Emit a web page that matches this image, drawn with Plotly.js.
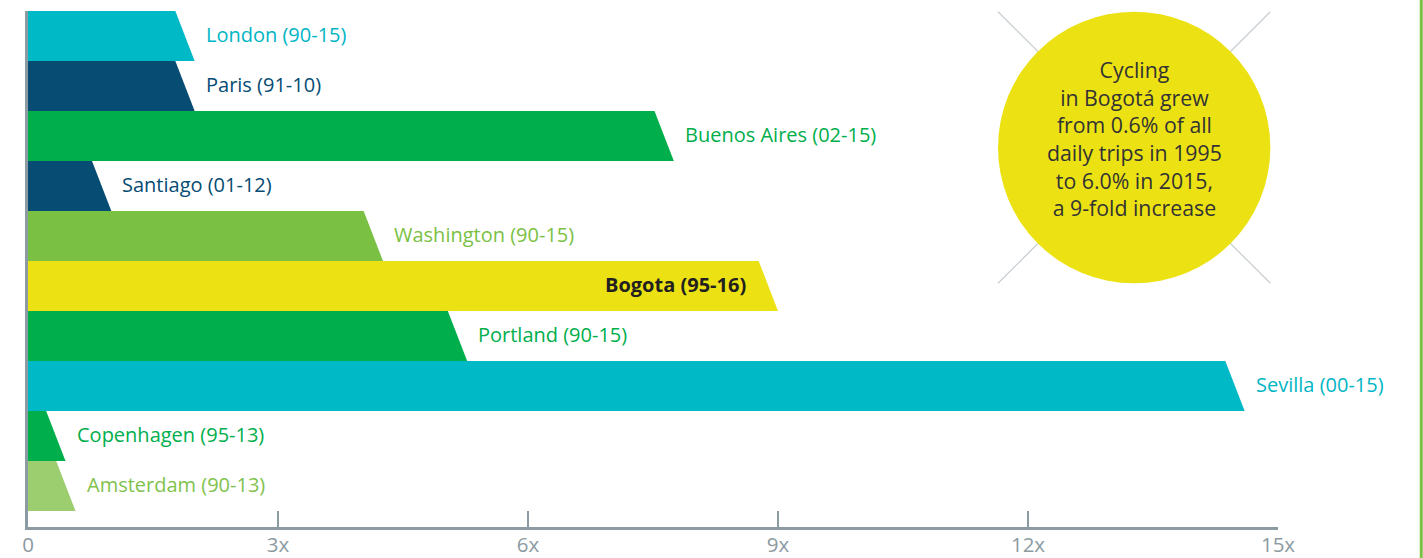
<!DOCTYPE html>
<html>
<head>
<meta charset="utf-8">
<script src="https://cdn.plot.ly/plotly-3.0.1.min.js"></script>
<style>
  html, body { margin: 0; padding: 0; background: #ffffff; }
  #chart { width: 1423px; height: 558px; }
</style>
</head>
<body>
<div id="chart"></div>
<script>
// ---- data ----
const cities  = ['London', 'Paris', 'Buenos Aires', 'Santiago', 'Washington', 'Bogota', 'Portland', 'Sevilla', 'Copenhagen', 'Amsterdam'];
const periods = ['90-15', '91-10', '02-15', '01-12', '90-15', '95-16', '90-15', '00-15', '95-13', '90-13'];
const growth  = [2.0, 2.0, 7.75, 1.0, 4.26, 9.0, 5.27, 14.6, 0.45, 0.57];   // x-fold increase
const tickValues = [0, 3, 6, 9, 12, 15];
const tickLabels = ['0', '3x', '6x', '9x', '12x', '15x'];
const calloutLines = ['Cycling', 'in Bogotá grew', 'from 0.6% of all', 'daily trips in 1995', 'to 6.0% in 2015,', 'a 9-fold increase'];
const highlightCity = 'Bogota';

// ---- styles ----
const barColors   = ['#00b9c7', '#064c73', '#00ae4c', '#064c73', '#7ac143', '#ece213', '#00ae4c', '#00b9c7', '#00ae4c', '#9ccd6e'];
const labelColors = ['#00b5c4', '#064c73', '#00ae4c', '#064c73', '#7ac143', '#231f20', '#00ae4c', '#00b5c4', '#00ae4c', '#7fc24d'];
const axisColor = '#8c9ba2';
const slant = 0.232;   // width of the sloped end, in axis units
const font = 'Open Sans, Noto Sans, sans-serif';

const n = cities.length;
const traces = [];
const annotations = [];

cities.forEach((c, i) => {
  const yc = n - 1 - i;          // first city at the top
  const v = growth[i];
  traces.push({
    type: 'scatter',
    mode: 'lines',
    x: [0, v - slant, v, 0, 0],
    y: [yc + 0.5, yc + 0.5, yc - 0.5, yc - 0.5, yc + 0.5],
    fill: 'toself',
    fillcolor: barColors[i],
    line: { width: 0, color: barColors[i] },
    hoverinfo: 'skip',
    showlegend: false
  });
  const isHi = c === highlightCity;
  annotations.push({
    xref: 'x', yref: 'y',
    x: v, y: yc,
    xanchor: isHi ? 'right' : 'left',
    yanchor: 'middle',
    xshift: isHi ? -30 : 9,
    yshift: 2,
    showarrow: false,
    text: isHi ? '<b>' + c + ' (' + periods[i] + ')</b>' : c + ' (' + periods[i] + ')',
    font: { family: font, size: 20, color: labelColors[i] }
  });
});

// callout text in the circle
annotations.push({
  xref: 'paper', yref: 'paper',
  x: 0.885, y: 0.753,
  xanchor: 'center', yanchor: 'middle',
  showarrow: false,
  align: 'center',
  text: calloutLines.join('<br>'),
  font: { family: font, size: 21.3, color: '#333333' }
});

const shapes = [
  // faint cross behind the circle
  { type: 'line', xref: 'paper', yref: 'paper', x0: 0.776, y0: 0.9986, x1: 0.9939, y1: 0.4723,
    line: { color: '#c9cfd3', width: 1.3 }, layer: 'above' },
  { type: 'line', xref: 'paper', yref: 'paper', x0: 0.776, y0: 0.4723, x1: 0.9939, y1: 0.9986,
    line: { color: '#c9cfd3', width: 1.3 }, layer: 'above' },
  // yellow circle
  { type: 'circle', xref: 'paper', yref: 'paper', x0: 0.776, y0: 0.4723, x1: 0.9939, y1: 0.9986,
    fillcolor: '#ece213', line: { width: 0 }, layer: 'above' },
  // green border line at the right edge
  { type: 'line', xref: 'paper', yref: 'paper', x0: 1.1146, x1: 1.1146, y0: -0.07, y1: 1.03,
    line: { color: '#7ac143', width: 3 }, layer: 'above' }
];

const layout = {
  width: 1423, height: 558,
  margin: { l: 28, r: 145, t: 11, b: 31, pad: 0 },
  paper_bgcolor: '#ffffff',
  plot_bgcolor: '#ffffff',
  showlegend: false,
  font: { family: font },
  xaxis: {
    range: [0, 15],
    tickmode: 'array',
    tickvals: tickValues,
    ticktext: tickLabels,
    ticks: 'inside',
    ticklen: 16,
    tickwidth: 2.5,
    tickcolor: axisColor,
    showline: true,
    linecolor: axisColor,
    linewidth: 3,
    showgrid: false,
    zeroline: false,
    ticklabelstandoff: -3,
    tickfont: { family: font, size: 20.5, color: '#8c9ba2' },
    fixedrange: true
  },
  yaxis: {
    range: [-0.82, 9.5],
    showticklabels: false,
    ticks: '',
    showline: true,
    linecolor: axisColor,
    linewidth: 3,
    showgrid: false,
    zeroline: false,
    fixedrange: true
  },
  shapes: shapes,
  annotations: annotations
};

Plotly.newPlot('chart', traces, layout, { displayModeBar: false, staticPlot: true });
</script>
</body>
</html>
